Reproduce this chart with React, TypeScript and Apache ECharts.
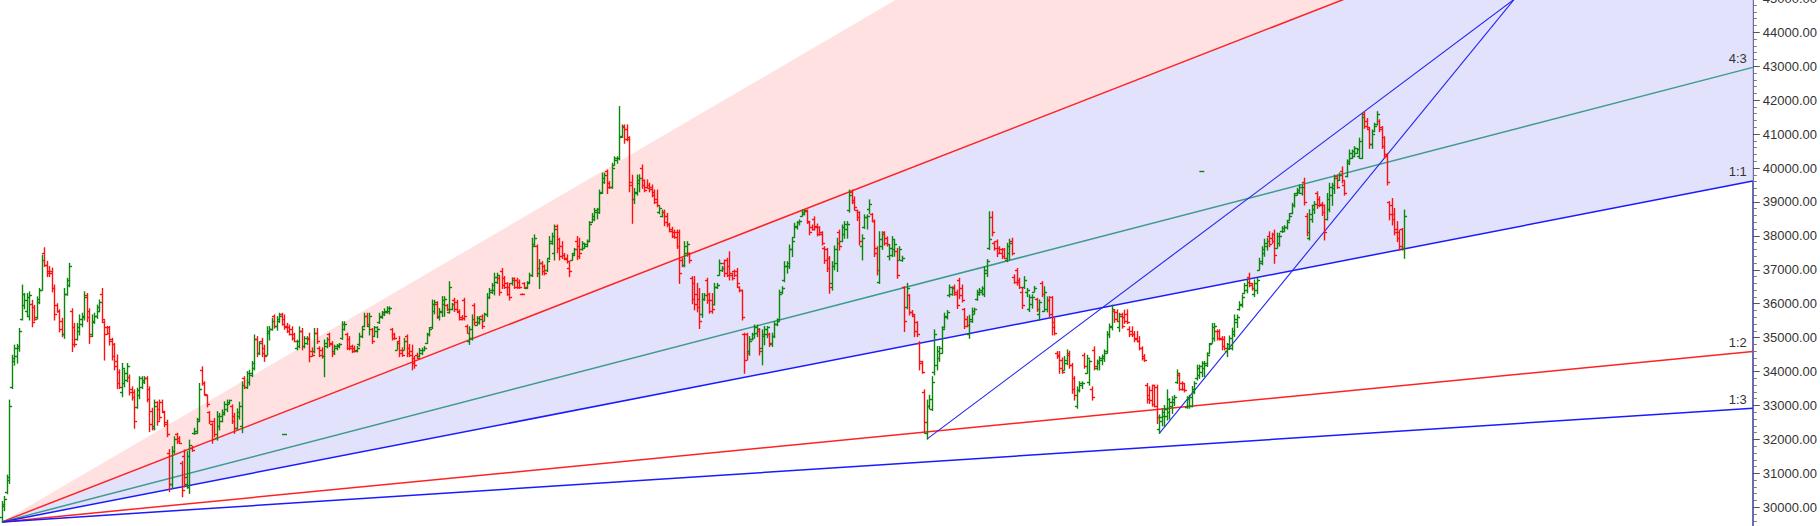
import React, { useEffect, useRef } from "react";
import * as echarts from "echarts";

// OHLC bars: [open, high, low, close], one per trading session
const bars: number[][] = [
  [29700,30170,29570,30100],[30050,30320,29900,30250],[30450,30950,30400,30900],[30800,33160,30700,33000],[33550,34480,33500,34400],
  [34300,34780,34190,34700],[34450,34800,34250,34750],[34700,35270,34600,35200],[35550,36550,35520,36300],[35950,36300,35850,36100],
  [35800,36300,35620,36200],[35650,36350,35520,36250],[36000,36100,35320,35450],[35900,35950,35500,35550],[35600,36200,35550,36150],
  [36050,36450,36000,36400],[36400,37430,36400,37300],[37500,37650,37100,37150],[37150,37250,36800,36900],[36950,37100,36800,36900],
  [36950,37050,36350,36450],[36450,36550,35520,35700],[35950,36000,35750,35780],[35800,35820,35170,35250],[35500,35570,35030,35100],
  [35100,36450,34980,36300],[36300,36750,36250,36700],[36550,37190,36500,37100],[35800,35850,34590,34800],[35300,35420,34730,34800],
  [34950,35420,34930,35300],[35200,35670,35080,35550],[35400,35720,35320,35650],[35600,36350,35520,36200],[36250,36300,35470,35600],
  [35800,35850,34830,35050],[35100,35670,35030,35500],[35450,35720,35420,35650],[35650,35960,35570,35900],[35800,36110,35760,36050],
  [36300,36450,35470,35550],[35450,35500,34340,35100],[35300,35330,35100,35150],[35300,35330,34780,34900],[34950,34980,34340,34450],
  [34800,34830,34050,34150],[34300,34490,33500,33650],[34000,34050,33500,33550],[33400,34240,33260,34100],[33650,34050,33550,33950],
  [33750,34240,33700,34150],[33850,33900,33310,33400],[33500,33550,33160,33250],[33400,33460,32330,32550],[32950,33510,32920,33450],
  [33300,33850,33200,33800],[33550,33850,33500,33750],[33700,33850,33650,33800],[33800,33850,33110,33200],[33500,33550,32230,32450],
  [32850,32920,32280,32350],[32400,33160,32280,33000],[33100,33110,32420,32550],[32900,33160,32570,32650],[33100,33160,32820,32850],
  [32800,32820,32380,32450],[32500,32570,32080,32150],[31600,31700,30460,30700],[30700,31790,30560,31650],[31650,32080,31590,32000],
  [32150,32180,31880,31950],[32050,32080,31880,31900],[31300,31350,30310,30500],[31500,31690,30600,30900],[30700,31640,30560,31500],
  [30600,31980,30410,31850],[31750,31800,31650,31700],[32200,32330,32150,32250],[32200,32620,32180,32550],[32600,33650,32550,33500],
  [34050,34140,33600,33650],[33650,33700,33300,33350],[33300,33310,32960,33050],[32800,32820,32470,32550],[32450,32480,31890,32000],
  [32550,32620,32080,32150],[32050,32820,31980,32700],[32400,32770,32280,32700],[32550,32870,32520,32800],[32750,33110,32720,33050],
  [32900,33160,32820,33100],[33050,33160,33050,33150],[33000,33020,32470,32550],[32700,32770,32180,32350],[32350,32900,32300,32800],
  [32700,33100,32600,33000],[32400,33700,32200,33600],[33800,33850,33500,33550],[33550,34000,33500,33950],[33700,34040,33600,33950],
  [33900,34300,33850,34250],[34100,35080,34050,34950],[34950,35030,34440,34550],[34550,34880,34500,34850],[34900,34980,34440,34550],
  [34700,34780,34300,34450],[34500,35320,34490,35200],[35150,35330,34930,35250],[35250,35570,35220,35500],[35650,35670,35280,35350],
  [35350,35620,35220,35550],[35500,35720,35450,35650],[35700,35720,35370,35400],[35550,35670,35250,35300],[35350,35420,35150,35200],
  [35300,35370,35080,35100],[35250,35320,34930,35000],[35100,35130,34880,34900],[34700,34930,34640,34900],[34750,35320,34700,35200],
  [35200,35270,34640,34750],[34750,35030,34700,34980],[34850,35030,34800,34950],[35000,35130,34290,34450],[34600,34700,34450,34500],
  [34600,35270,34550,35150],[35150,35270,34830,34900],[34700,34730,34440,34500],[34650,34700,34400,34450],[34450,34930,33850,34850],
  [34750,35000,34700,34950],[35100,35130,34740,34800],[34850,34880,34440,34550],[34600,34780,34500,34750],[34700,34800,34640,34780],
  [34750,34830,34700,34800],[35000,35470,34950,35400],[35250,35470,35220,35400],[35100,35130,34650,34700],[34950,35030,34640,34700],
  [34750,34780,34560,34600],[34700,34750,34580,34620],[34650,34740,34580,34700],[34800,35130,34750,35050],[35050,35300,35000,35250],
  [35350,35720,35320,35650],[35650,35720,35330,35400],[35350,35720,35080,35650],[35250,35270,34830,34900],[35050,35330,35030,35300],
  [35200,35320,35000,35250],[35450,35720,35420,35650],[35600,35770,35570,35750],[35700,35850,35650,35800],[35750,35910,35720,35880],
  [35800,35910,35700,35870],[35250,35270,34930,35000],[35100,35130,34950,35000],[34650,34880,34640,34850],[34900,35030,34440,34550],
  [34650,34700,34450,34500],[34650,34980,34640,34900],[35050,35080,34440,34550],[34700,34800,34440,34500],[34600,34780,34050,34250],
  [34400,34450,34100,34200],[34500,34540,34390,34400],[34450,34680,34430,34650],[34550,34690,34500,34650],[34650,34740,34640,34700],
  [34850,35130,34830,35100],[35100,35300,35050,35250],[35300,36110,35270,36000],[35800,36100,35700,36050],[36000,36060,35570,35650],
  [35600,35860,35520,35800],[35750,36210,35620,36100],[36000,36210,35630,36150],[35950,35980,35800,35830],[35750,36650,35720,36500],
  [35850,36010,35820,35980],[36100,36160,35770,35850],[36050,36100,35770,35800],[35750,35820,35520,35550],[35600,35650,35520,35580],
  [36100,36160,35520,35650],[35350,35370,35130,35150],[34900,35320,34800,35250],[35000,35670,34930,35550],[35950,36000,35370,35450],
  [35380,35620,35370,35580],[35450,35620,35400,35550],[35650,35670,35270,35350],[35500,35720,35500,35700],[35700,36300,35620,36200],
  [36200,36450,36150,36400],[36350,36600,36300,36550],[36400,36900,36260,36800],[36650,36900,36600,36850],[36750,36800,36250,36350],
  [36950,37040,36450,36550],[36750,36800,36450,36500],[36600,36620,36250,36300],[36500,36600,36110,36200],[36600,36760,36550,36700],
  [36750,36760,36450,36500],[36700,36750,36450,36500],[36650,36700,36450,36500],[36280,36290,36270,36275],[36600,36620,36450,36480],
  [36450,36650,36450,36600],[36650,36900,36600,36850],[36850,37930,36800,37700],[37750,38030,37700,37950],[37700,37730,36800,37050],
  [36900,37300,36450,37200],[37200,37240,36850,36950],[37100,37140,36850,36900],[37000,37300,36950,37250],[37350,37980,37300,37850],
  [37800,38080,37750,38000],[37500,38320,37290,38200],[38300,38320,37500,37650],[37900,37930,37290,37400],[37700,37830,37330,37450],
  [37450,37480,37300,37330],[37350,37440,37200,37250],[37050,37240,36800,36950],[37300,37480,37280,37450],[37500,37630,37440,37600],
  [37850,37980,37300,37400],[37700,37930,37330,37500],[37600,37830,37580,37780],[37650,37780,37630,37750],[37700,37880,37680,37850],
  [37850,38420,37830,38350],[38420,38660,38400,38600],[38500,38810,38450,38750],[38700,38810,38500,38780],[38700,39350,38660,39250],
  [39300,39850,39250,39700],[39600,39850,39550,39800],[39900,39940,39250,39450],[39550,39600,39400,39450],[39450,40140,39400,40000],
  [40100,40330,40080,40300],[40250,40330,40140,40300],[40300,41810,40240,40900],[40950,41270,40900,41200],[41250,41270,40730,40850],
  [41150,41270,40800,40850],[40900,40920,39300,39600],[39500,39790,38370,39100],[39100,39400,38950,39300],[39250,39790,39200,39650],
  [39550,39800,39300,39700],[40000,40090,39400,39500],[39650,39650,39300,39350],[39450,39650,39400,39420],[39500,39550,39300,39380],
  [39450,39500,39150,39200],[39300,39350,38950,39000],[39100,39350,38860,38900],[38700,38860,38650,38820],[38600,38760,38560,38700],
  [38700,38760,38300,38400],[38600,38660,38270,38350],[38350,38370,38120,38150],[38200,38250,37950,38000],[38100,38170,37930,37980],
  [38100,38170,37630,37700],[38100,38170,36600,36900],[37300,37340,37090,37150],[37150,37830,37090,37700],[37500,37830,37400,37750],
  [37500,37500,37200,37300],[36750,36800,36000,36150],[36600,36800,35820,36000],[36300,36600,35760,35900],[36150,36450,35270,35500],
  [35700,36300,35600,36150],[36150,36300,36100,36250],[36700,36750,36010,36100],[36300,36310,35720,35800],[36100,36300,35720,35850],
  [35980,36600,35960,36500],[36500,36600,36450,36550],[36850,37290,36840,37200],[37000,37100,36950,37050],[37200,37290,36800,36900],
  [37300,37340,36800,36850],[37100,37530,36700,36850],[36900,36900,36700,36750],[36950,36990,36800,36850],[36950,37040,36500,36600],
  [36500,36500,36350,36400],[36400,36400,35520,35600],[35100,35130,33950,34350],[35100,35130,34340,34550],[34600,35030,34480,34900],
  [34950,35130,34930,35100],[35000,35370,35000,35300],[35150,35370,35030,35250],[35200,35270,34490,34600],[34700,35230,34200,35100],
  [35050,35330,34790,35250],[35100,35330,35000,35300],[35100,35130,34740,34850],[34800,35130,34740,35050],[35050,35470,35000,35400],
  [35400,35550,35350,35500],[35550,36400,35520,36300],[36350,36500,36300,36450],[36700,37240,36650,37100],[37100,37240,36900,37200],
  [37100,37730,37040,37600],[37600,37930,37390,37850],[37980,38370,37950,38300],[38250,38420,38200,38400],[38400,38470,38320,38450],
  [38600,38760,38580,38700],[38650,38760,38620,38720],[38750,38760,38370,38450],[38400,38420,38030,38100],[38250,38320,38170,38200],
  [38500,38560,38170,38250],[38300,38350,38000,38050],[38250,38270,38020,38050],[38100,38120,37730,37800],[37650,37680,37190,37300],
  [37600,37630,36950,37050],[37350,37390,36310,36500],[36600,37240,36400,37100],[37100,37700,37000,37600],[37200,37930,36950,37800],
  [38100,38170,37580,37700],[37850,38320,37830,38250],[38050,38420,37930,38350],[38200,38420,37930,38350],[38750,39350,38700,39200],
  [39300,39350,38950,39000],[39050,39150,38760,38850],[38750,38760,38450,38550],[38700,38710,37730,37850],[37700,38030,37290,37950],
  [38250,38620,38220,38550],[38550,38620,38200,38600],[38800,39060,38660,38950],[38650,38660,38420,38450],[38450,38470,37390,37500],
  [37650,37680,36850,37000],[36650,38120,36600,37900],[37700,38120,37600,38050],[38100,38120,37730,37800],[37950,37970,37700,37750],
  [37400,37730,37290,37650],[37450,37980,37390,37900],[37600,37880,37400,37750],[37550,37630,36750,36850],[37300,37680,37290,37600],
  [37300,37400,37250,37350],[36500,36500,35180,35500],[35900,36600,35850,36450],[36250,36270,35670,35750],[35750,35800,35650,35700],
  [35650,35670,35030,35200],[35450,35470,35030,35100],[34850,34880,34050,34300],[34250,34300,33950,34000],[33400,33460,32180,32500],
  [32200,33160,32010,33000],[33000,33300,32900,33200],[32900,33850,32850,33700],[34000,35230,33900,35100],[34200,34740,34050,34600],
  [34400,34740,34300,34700],[34550,35320,34540,35250],[35300,35720,35280,35650],[35600,35800,35550,35750],[36250,36550,36200,36500],
  [36300,36500,36250,36450],[36500,36550,36250,36300],[36350,36400,35860,35950],[36700,36750,36150,36250],[36450,36550,36050,36100],
  [35850,35860,35270,35350],[35550,35620,35320,35380],[35100,35660,34980,35550],[35500,35870,35450,35800],[35700,35870,35700,35850],
  [36150,36400,36100,36350],[36300,36450,36250,36400],[36350,36500,36260,36450],[36300,37090,36210,37000],[36900,37300,36800,37250],
  [37650,38710,37600,37900],[38550,38710,38000,38100],[37800,37830,37580,37650],[37850,37880,37390,37500],[37650,37680,37480,37500],
  [37600,37630,37330,37400],[37600,37630,37330,37350],[37300,37780,37240,37700],[37500,37900,37300,37800],[37850,37930,37440,37500],
  [36800,36850,36600,36650],[37000,37040,36550,36650],[36700,36750,36450,36500],[36350,36450,35860,35950],[36500,36800,36450,36700],
  [36350,36450,36210,36400],[35850,36260,35770,36200],[36000,36260,35870,36200],[36350,36510,36350,36450],[36150,36160,35770,35850],
  [35700,36110,35520,36050],[36600,36650,36210,36300],[35800,36500,35770,36350],[35850,36200,35760,36100],[36100,36210,35620,35700],
  [36200,36210,35080,35300],[35450,35570,35080,35150],[34550,34590,34390,34450],[34500,34590,33950,34100],[34350,34400,33950,34000],
  [34050,34440,34050,34350],[34250,34640,34200,34550],[34500,34600,34100,34200],[34200,34240,33360,33500],[33800,33850,33160,33300],
  [33000,33550,32920,33450],[33450,33700,33400,33650],[33600,33700,33500,33650],[34500,34540,34100,34150],[33950,34480,33950,34400],
  [33700,34340,33600,34300],[33500,33550,33160,33250],[34650,34730,34050,34150],[34100,34340,34050,34300],[34250,34440,34050,34400],
  [34350,34490,34200,34450],[34400,34640,34300,34600],[34550,35180,34540,35100],[35100,35400,35000,35350],[35300,35960,35230,35850],
  [35800,35820,35450,35550],[35750,35820,35470,35500],[35300,35720,35180,35650],[35700,35720,35280,35350],[35600,35810,35420,35500],
  [35700,35820,35420,35450],[35250,35320,35030,35100],[35200,35320,35030,35100],[35100,35180,34880,34950],[35000,35180,34880,34900],
  [34900,35030,34640,34700],[34700,34730,34340,34400],[34450,34500,34300,34350],[33600,33650,33070,33200],[33300,33550,33060,33150],
  [33450,33600,32980,33050],[33600,33600,32960,33000],[33550,33600,32470,32650],[32300,32720,32180,32650],[32550,32900,32400,32800],
  [32700,33000,32380,32900],[32700,33460,32570,33200],[32800,33200,32600,33100],[33000,33260,32770,33200],[33100,33300,33000,33250],
  [33700,34050,33650,33950],[33900,33950,33450,33500],[33650,33700,33450,33500],[33650,33650,33400,33450],[32950,33260,32920,33200],
  [33000,33300,32920,33250],[33000,33560,32960,33500],[33400,33700,33350,33650],[33800,34190,33750,34100],[33900,34190,33800,34150],
  [34000,34290,33850,34250],[34100,34300,33850,34250],[34200,34550,34150,34500],[34550,34830,34540,34800],[34850,35420,34840,35300],
  [35000,35420,34900,35350],[35200,35230,34930,35000],[35200,35230,34930,34950],[35000,35030,34640,34750],[34950,35030,34640,34700],
  [34600,34830,34440,34800],[34700,35050,34650,35000],[34700,35280,34640,35200],[35100,35670,35030,35550],[35450,35670,35300,35600],
  [35830,36060,35810,36000],[35950,36260,35900,36200],[36320,36600,36300,36550],[36400,36700,36320,36650],[36800,36900,36500,36550],
  [36600,36600,36400,36450],[36300,36700,36210,36600],[36400,36750,36300,36700],[37000,37340,36990,37250],[37200,37680,37150,37600],
  [37500,37900,37400,37800],[37700,37930,37580,37850],[38000,38120,37680,37750],[37950,38080,37780,37850],[38050,38170,37190,37450],
  [37650,38080,37640,38000],[37800,38080,37700,38000],[38130,38270,38100,38230],[38150,38300,38120,38250],[38250,38450,38200,38400],
  [38470,38660,38460,38600],[38680,38960,38650,38900],[38900,39250,38850,39200],[39250,39400,39200,39350],[39300,39500,39250,39450],
  [39250,39500,39200,39450],[39600,39700,38910,39000],[38600,38660,38000,38100],[37950,38770,37880,38650],[38500,38900,38400,38800],
  [38900,39010,38660,38950],[39250,39300,38810,38900],[39100,39150,38860,38900],[38950,38990,38600,38700],[38900,38910,37880,38100],
  [38500,39250,38470,39100],[38800,39550,38710,39450],[39200,39550,38900,39500],[39400,39790,39250,39700],[39750,39790,39400,39450],
  [39650,39850,39630,39800],[39900,40030,39560,39650],[39500,39600,39200,39250],[39750,40240,39740,40200],[40150,40530,40100,40450],
  [40300,40530,40280,40500],[40350,40630,40330,40600],[40450,40580,40430,40550],[40350,40880,40280,40800],[40300,41610,40280,41500],
  [41600,41660,41170,41250],[41400,41460,41170,41200],[41150,41170,40580,40700],[40700,41120,40580,41000],[41100,41320,41070,41250],
  [41300,41660,41270,41600],[41400,41420,41070,41150],[41200,41220,40580,40650],[40900,40920,40280,40350],[40400,40430,39500,39600],
  [39000,39010,38470,38650],[38900,39100,38320,38500],[38650,38810,38030,38200],[38100,38420,37830,37950],[38100,38170,37580,37700],
  [38200,38220,37580,37650],[37650,38760,37340,38600],
];

// isolated single-price prints: [bar index, price]
const spikes: number[][] = [[113, 32160], [480, 39920]];

// Gann fan: origin (bar index, price), price per bar on the 1x1 ray, rays
const fanOrigin: number[] = [0, 29570];
const fanUnit = 14.345;
const fanNames: string[] = ["3:1", "2:1", "4:3", "1:1", "1:2", "1:3"];
const fanRatios: number[] = [3, 2, 4 / 3, 1, 1 / 2, 1 / 3];
const fanLabelled: string[] = ["4:3", "1:1", "1:2", "1:3"];

// trend lines drawn from two swing lows: [[index, price], [index, price]]
const trendLines: number[][][] = [
  [[370, 32010], [605, 44975]],
  [[463, 32180], [605, 44975]],
];

// axis extents
const X_MIN = -0.8;
const X_MAX = 700.4;
const Y_MIN = 29449;
const Y_MAX = 45541;

const UP = "#0a870a";
const DOWN = "#ff1010";
const RAY_COLORS: Record<string, string> = {
  "2:1": "#ff2222",
  "4:3": "#3d9a8c",
  "1:1": "#1a1aff",
  "1:2": "#ff2222",
  "1:3": "#1a1aff",
};
const PINK = "#ffe1e1";
const LAVENDER = "#e2e2fc";
const FONT = '"Liberation Sans", Arial, sans-serif';

const rayEnd = (ratio: number): number[] => [X_MAX, fanOrigin[1] + fanUnit * ratio * (X_MAX - fanOrigin[0])];

function buildOption(): any {
  const ohlcData = bars.map((b, i) => [i, b[0], b[1], b[2], b[3]]);

  const fillSeries = {
    type: "custom",
    name: "fan-fill",
    z: 1,
    silent: true,
    data: [[fanOrigin[0], fanOrigin[1]]],
    encode: { x: 0, y: 1 },
    renderItem: (_p: any, api: any) => {
      const o = api.coord(fanOrigin);
      const e3 = api.coord(rayEnd(fanRatios[0]));
      const e2 = api.coord(rayEnd(fanRatios[1]));
      const e1 = api.coord(rayEnd(fanRatios[3]));
      return {
        type: "group",
        children: [
          { type: "polygon", shape: { points: [o, e3, e2] }, style: { fill: PINK } },
          { type: "polygon", shape: { points: [o, e2, e1] }, style: { fill: LAVENDER } },
        ],
      };
    },
  };

  const raySeries = fanNames
    .map((name, k) => ({ name, ratio: fanRatios[k] }))
    .filter((r) => RAY_COLORS[r.name])
    .map((r) => ({
      type: "line",
      name: "ray " + r.name,
      z: 2,
      silent: true,
      symbol: "none",
      data: [fanOrigin, rayEnd(r.ratio)],
      lineStyle: { color: RAY_COLORS[r.name], width: 1.5 },
    }));

  const labelSeries = {
    type: "custom",
    name: "fan-labels",
    z: 4,
    silent: true,
    data: fanLabelled.map((n) => {
      const k = fanNames.indexOf(n);
      const e = rayEnd(fanRatios[k]);
      return [e[0], e[1], k];
    }),
    encode: { x: 0, y: 1 },
    renderItem: (_p: any, api: any) => {
      const pt = api.coord([api.value(0), api.value(1)]);
      const name = fanNames[api.value(2)];
      return {
        type: "text",
        x: pt[0] - 6,
        y: pt[1] - 9,
        style: {
          text: name,
          fill: "#333",
          font: "13px " + FONT,
          align: "right",
          textAlign: "right",
          verticalAlign: "middle",
          textVerticalAlign: "middle",
        },
      };
    },
  };

  const trendSeries = trendLines.map((pts, k) => ({
    type: "line",
    name: "trend " + (k + 1),
    z: 3,
    silent: true,
    symbol: "none",
    data: pts,
    lineStyle: { color: "#2424f0", width: 1.1 },
  }));

  const ohlcSeries = {
    type: "custom",
    name: "ohlc",
    z: 5,
    silent: true,
    data: ohlcData,
    encode: { x: 0, y: [1, 2, 3, 4] },
    renderItem: (_p: any, api: any) => {
      const i = api.value(0);
      const o = api.value(1);
      const h = api.value(2);
      const l = api.value(3);
      const c = api.value(4);
      const top = api.coord([i, h]);
      const bot = api.coord([i, l]);
      const po = api.coord([i, o]);
      const pc = api.coord([i, c]);
      const x = Math.round(top[0]) + 0.5;
      const color = c >= o ? UP : DOWN;
      const style = { stroke: color, lineWidth: 1.4 };
      const yo = Math.round(po[1]) + 0.5;
      const yc = Math.round(pc[1]) + 0.5;
      return {
        type: "group",
        children: [
          { type: "line", shape: { x1: x, y1: top[1] - 0.5, x2: x, y2: bot[1] + 0.5 }, style },
          { type: "line", shape: { x1: x - 2.6, y1: yo, x2: x, y2: yo }, style },
          { type: "line", shape: { x1: x, y1: yc, x2: x + 2.6, y2: yc }, style },
        ],
      };
    },
  };

  const spikeSeries = {
    type: "custom",
    name: "spikes",
    z: 5,
    silent: true,
    data: spikes,
    encode: { x: 0, y: 1 },
    renderItem: (_p: any, api: any) => {
      const p = api.coord([api.value(0), api.value(1)]);
      const y = Math.round(p[1]) + 0.5;
      return {
        type: "line",
        shape: { x1: p[0] - 2.5, y1: y, x2: p[0] + 2.5, y2: y },
        style: { stroke: UP, lineWidth: 1.4 },
      };
    },
  };

  return {
    animation: false,
    backgroundColor: "#ffffff",
    grid: { left: 0, right: 67, top: 0, bottom: 0, containLabel: false },
    xAxis: { type: "value", min: X_MIN, max: X_MAX, show: false },
    yAxis: {
      type: "value",
      position: "right",
      min: Y_MIN,
      max: Y_MAX,
      splitNumber: 15,
      axisLine: { show: true, onZero: false, lineStyle: { color: "#3a3a98", width: 1.5 } },
      axisTick: { show: true, inside: false, length: 7, lineStyle: { color: "#555" } },
      minorTick: { show: true, splitNumber: 5, length: 4, lineStyle: { color: "#777" } },
      splitLine: { show: false },
      axisLabel: {
        margin: 10,
        color: "#333",
        fontSize: 13,
        fontFamily: FONT,
        formatter: (v: number) => (Math.abs(v % 1000) < 1e-6 ? v.toFixed(2) : ""),
      },
    },
    series: [fillSeries, ...raySeries, ...trendSeries, ohlcSeries, spikeSeries, labelSeries],
  };
}

export default function App() {
  const ref = useRef<HTMLDivElement>(null);
  useEffect(() => {
    if (!ref.current) return;
    const chart = echarts.init(ref.current, undefined, { renderer: "svg" });
    chart.setOption(buildOption());
    return () => chart.dispose();
  }, []);
  return (
    <div style={{ position: "absolute", left: 0, top: 0, width: 1820, height: 526, overflow: "hidden", background: "#fff" }}>
      <div
        ref={ref}
        style={{ position: "absolute", left: 0, top: -20, width: 1820, height: 546 }}
      />
    </div>
  );
}
